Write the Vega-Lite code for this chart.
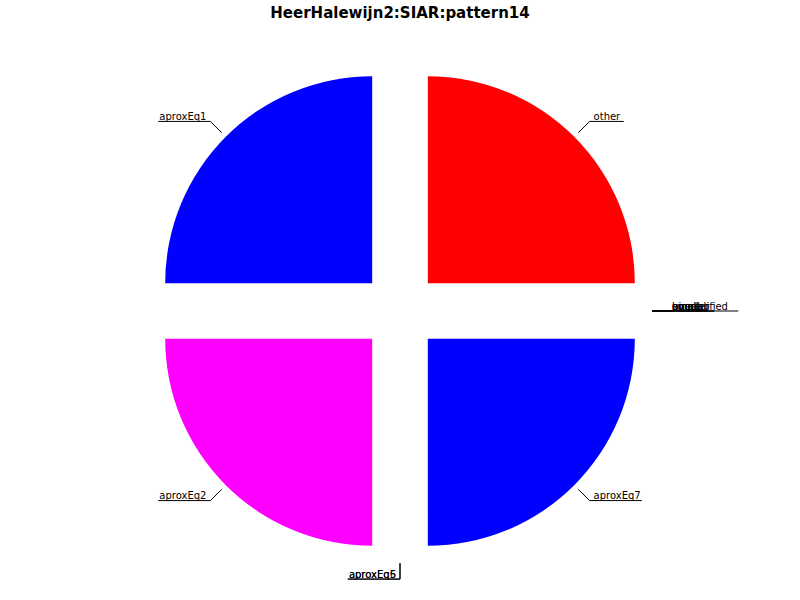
{
  "$schema": "https://vega.github.io/schema/vega-lite/v6.json",
  "width": 800,
  "height": 578,
  "autosize": "none",
  "padding": {"top": 22, "left": 0, "right": 0, "bottom": 0},
  "background": "white",
  "title": {"text": "HeerHalewijn2:SIAR:pattern14", "font": "DejaVu Sans", "fontSize": 15, "fontWeight": "bold", "color": "black", "offset": 1},
  "config": {"view": {"stroke": null}},
  "data": {
    "values": [
      {"label": "other", "value": 25},
      {"label": "aproxEq1", "value": 25},
      {"label": "aproxEq2", "value": 25},
      {"label": "aproxEq5", "value": 0},
      {"label": "aproxEq6", "value": 0},
      {"label": "aproxEq7", "value": 25},
      {"label": "bigger", "value": 0},
      {"label": "smaller", "value": 0},
      {"label": "equal", "value": 0},
      {"label": "overlap", "value": 0},
      {"label": "unqualified", "value": 0}
    ]
  },
  "transform": [
    {"stack": "value", "groupby": [], "as": ["t0", "t1"]},
    {"calculate": "(datum.t0 + datum.t1) / 2", "as": "mid"},
    {"calculate": "datum.mid / 100 * 2 * PI", "as": "ang"},
    {"calculate": "cos(datum.ang)", "as": "c"},
    {"calculate": "sin(datum.ang)", "as": "s"},
    {"calculate": "datum.c > 0.001 ? 1 : -1", "as": "sgn"},
    {"calculate": "0.19 * datum.c", "as": "ex"},
    {"calculate": "0.19 * datum.s", "as": "ey"},
    {"calculate": "1.218 * datum.c", "as": "x0"},
    {"calculate": "1.218 * datum.s", "as": "y0"},
    {"calculate": "1.295 * datum.c", "as": "x1"},
    {"calculate": "1.295 * datum.s", "as": "y1"},
    {"calculate": "datum.x1 + datum.sgn * (0.02 + length(datum.label) * 0.029)", "as": "hx"}
  ],
  "encoding": {
    "x": {"field": "x1", "type": "quantitative", "scale": {"domain": [-1.932, 1.932]}, "axis": null},
    "y": {"field": "y1", "type": "quantitative", "scale": {"domain": [-1.396, 1.396]}, "axis": null}
  },
  "layer": [
    {
      "transform": [{"filter": "datum.value > 0"}],
      "mark": {"type": "arc", "radius": 207},
      "encoding": {
        "theta": {"field": "t0", "type": "quantitative", "scale": {"domain": [0, 100], "range": [1.5708, -4.7124]}},
        "theta2": {"field": "t1"},
        "x": {"field": "ex", "type": "quantitative"},
        "y": {"field": "ey", "type": "quantitative"},
        "color": {"field": "label", "type": "nominal", "legend": null,
          "scale": {"domain": ["other", "aproxEq1", "aproxEq2", "aproxEq7"], "range": ["#ff0000", "#0000ff", "#ff00ff", "#0000ff"]}}
      }
    },
    {
      "mark": {"type": "rule", "color": "black", "strokeWidth": 1},
      "encoding": {
        "x": {"field": "x0", "type": "quantitative"},
        "y": {"field": "y0", "type": "quantitative"},
        "x2": {"field": "x1"},
        "y2": {"field": "y1"}
      }
    },
    {
      "mark": {"type": "rule", "color": "black", "strokeWidth": 1},
      "encoding": {
        "x2": {"field": "hx"},
        "y2": {"field": "y1"}
      }
    },
    {
      "transform": [{"filter": "datum.sgn > 0"}],
      "mark": {"type": "text", "align": "left", "baseline": "alphabetic", "dx": 4, "dy": -1.5, "font": "DejaVu Sans", "fontSize": 10, "color": "black"},
      "encoding": {"text": {"field": "label"}}
    },
    {
      "transform": [{"filter": "datum.sgn < 0"}],
      "mark": {"type": "text", "align": "right", "baseline": "alphabetic", "dx": -4, "dy": -1.5, "font": "DejaVu Sans", "fontSize": 10, "color": "black"},
      "encoding": {"text": {"field": "label"}}
    }
  ]
}
